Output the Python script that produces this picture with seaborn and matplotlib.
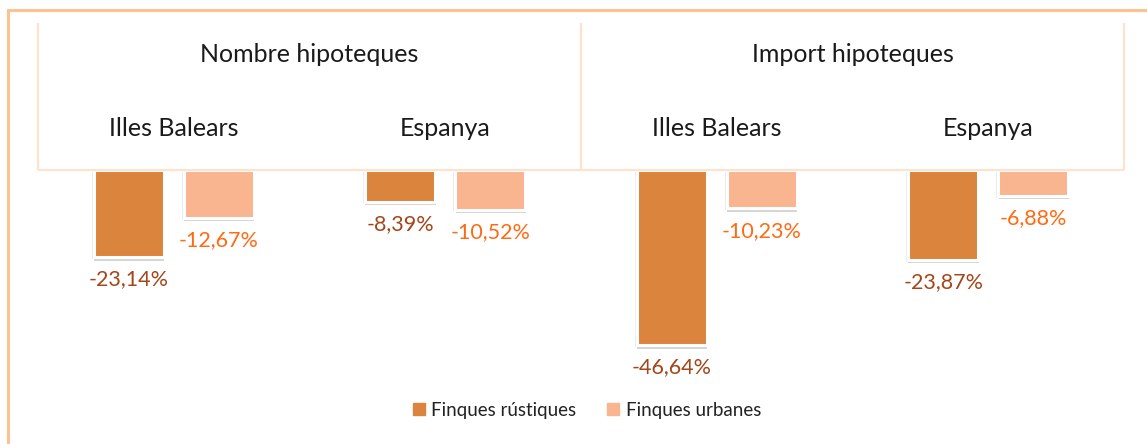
import matplotlib
matplotlib.use("Agg")
import matplotlib.pyplot as plt
import matplotlib.patheffects as pe
from matplotlib.lines import Line2D
import seaborn as sns
import pandas as pd

# ---- data ----
measures = ["Nombre hipoteques", "Import hipoteques"]
regions = ["Illes Balears", "Espanya", "Illes Balears", "Espanya"]
series = ["Finques rústiques", "Finques urbanes"]
rustiques = [-23.14, -8.39, -46.64, -23.87]
urbanes = [-12.67, -10.52, -10.23, -6.88]
label_rustiques = ["-23,14%", "-8,39%", "-46,64%", "-23,87%"]
label_urbanes = ["-12,67%", "-10,52%", "-10,23%", "-6,88%"]

keys = [f"{measures[i // 2]} | {regions[i]}" for i in range(4)]
df = pd.DataFrame({
    "key": keys * 2,
    "serie": [series[0]] * 4 + [series[1]] * 4,
    "valor": rustiques + urbanes,
})

c_rust = "#DB843D"
c_urb = "#F8B58F"
lab_rust = "#A3461B"
lab_urb = "#FF6A13"

sns.set_theme(style="white")
plt.rcParams["font.family"] = ["Lato", "DejaVu Sans"]

W, H = 1147, 444
fig = plt.figure(figsize=(W / 100, H / 100), dpi=100)
ax = fig.add_axes([38 / W, 64 / H, (1124 - 38) / W, (444 - 23 - 64) / H])

sns.barplot(data=df, x="key", y="valor", hue="serie", order=keys, hue_order=series,
            palette=[c_rust, c_urb], saturation=1, width=0.664, gap=0.22, ax=ax,
            edgecolor="white", linewidth=2.2, legend=False, errorbar=None)

for p in ax.patches:
    p.set_path_effects([
        pe.SimplePatchShadow(offset=(0.3, -2.6), shadow_rgbFace="#777777", alpha=0.3),
        pe.SimplePatchShadow(offset=(-1.4, -1.4), shadow_rgbFace="#999999", alpha=0.18),
        pe.Normal()])

ytop = (170 - 23) / 3.755
ybot = -(380 - 170) / 3.755
ax.set_ylim(ybot, ytop)
ax.set_xlim(-0.5, 3.5)
ax.set_xticks([])
ax.set_yticks([])
ax.set_xlabel("")
ax.set_ylabel("")
for s in ax.spines.values():
    s.set_visible(False)

# header table
lc = "#FCE3CF"
ax.vlines([-0.5, 1.5, 3.5], 0, ytop, colors=lc, lw=1.6, clip_on=False)
ax.hlines(0, -0.5, 3.5, colors=lc, lw=1.6, clip_on=False)

y_head = (170 - 55) / 3.755
y_sub = (170 - 128) / 3.755
ax.text(0.5, y_head, measures[0], ha="center", va="center", fontsize=18, color="#1a1a1a")
ax.text(2.5, y_head, measures[1], ha="center", va="center", fontsize=18, color="#1a1a1a")
for i, r in enumerate(regions):
    ax.text(i, y_sub, r, ha="center", va="center", fontsize=18, color="#1a1a1a")

# value labels
bars = ax.patches
rust_bars = sorted(bars[:4], key=lambda b: b.get_x())
urb_bars = sorted(bars[4:8], key=lambda b: b.get_x())
for b, t in zip(rust_bars, label_rustiques):
    ax.annotate(t, (b.get_x() + b.get_width() / 2, b.get_height()), xytext=(0, -16),
                textcoords="offset points", ha="center", va="center", fontsize=15.5, color=lab_rust)
for b, t in zip(urb_bars, label_urbanes):
    ax.annotate(t, (b.get_x() + b.get_width() / 2, b.get_height()), xytext=(0, -16),
                textcoords="offset points", ha="center", va="center", fontsize=15.5, color=lab_urb)

# legend
handles = [Line2D([], [], marker="s", ls="none", color=c_rust, markersize=9),
           Line2D([], [], marker="s", ls="none", color=c_urb, markersize=9)]
fig.legend(handles, series, loc="center", bbox_to_anchor=(585 / W, 1 - 410 / H), ncol=2,
           frameon=False, fontsize=13.5, handletextpad=0.15, columnspacing=1.5, handlelength=1.0,
           labelcolor="#222222")

# outer border
fig.patches.append(plt.Rectangle((8 / W, -0.05), 1.2, 1 - 10 / H + 0.05, transform=fig.transFigure,
                                 fill=False, edgecolor="#FCC391", lw=2.2))

fig.savefig("out.png", dpi=100, facecolor="white")
